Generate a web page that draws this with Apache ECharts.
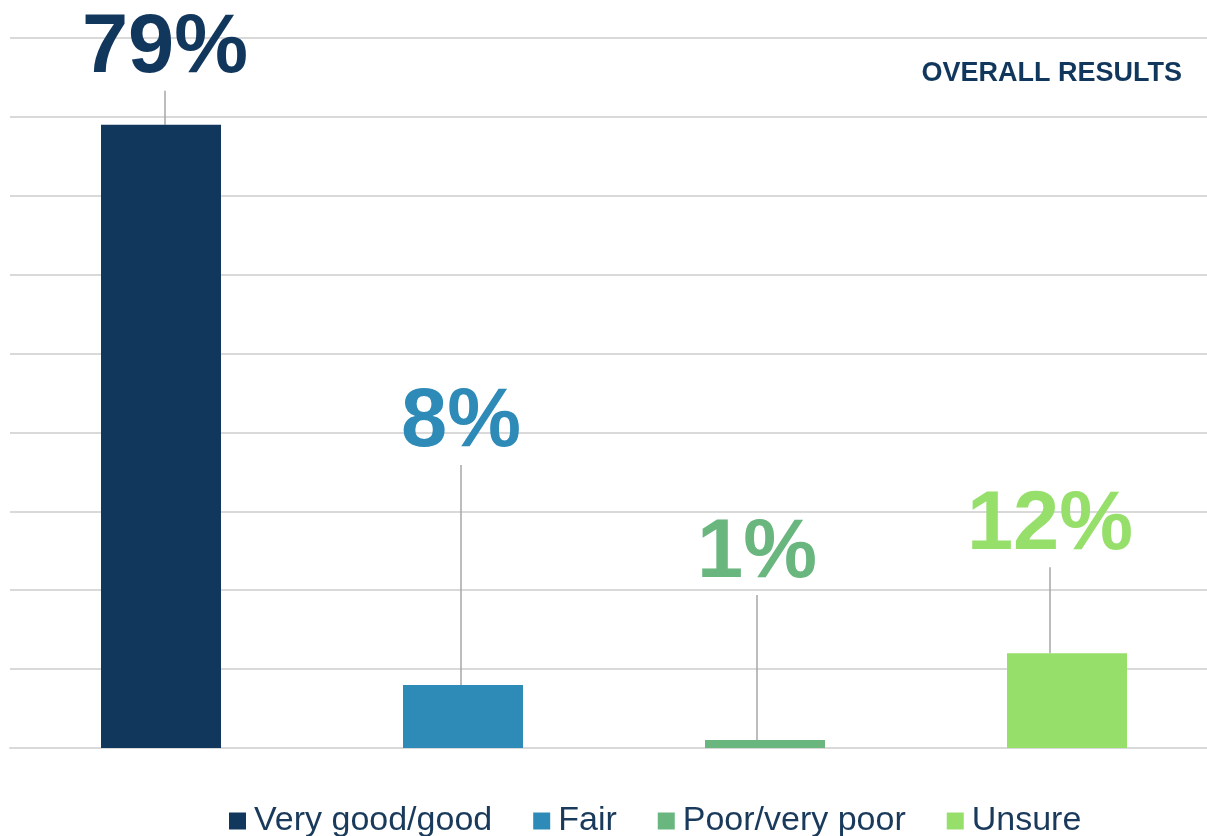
<!DOCTYPE html>
<html>
<head>
<meta charset="utf-8">
<script src="https://cdn.jsdelivr.net/npm/echarts@6/dist/echarts.min.js"></script>
<style>
  html, body { margin: 0; padding: 0; background: #fff; }
  #main { width: 1207px; height: 836px; }
</style>
</head>
<body>
<div id="main"></div>
<script>
var categories = ['Very good/good', 'Fair', 'Poor/very poor', 'Unsure'];
var values = [79, 8, 1, 12];
var colors = ['#12375c', '#2e8bb8', '#69b67f', '#97df6b'];
// manual label offsets (like the dragged labels of the original)
var labelShift = [[4, -29], [-2, -215], [-8, -140], [-17, -81]];

var chart = echarts.init(document.getElementById('main'), null);
var option;

var series = categories.map(function (name, i) {
    return {
        name: name,
        type: 'bar',
        stack: 'all',
        barWidth: 120,
        data: categories.map(function (c, j) { return j === i ? values[i] : '-'; }),
        itemStyle: { color: colors[i] },
        label: {
            show: true,
            position: 'top',
            formatter: '{c}%',
            fontFamily: 'Liberation Sans',
            fontSize: 83,
            fontWeight: 'bold',
            color: colors[i]
        },
        labelLayout: { dx: labelShift[i][0], dy: labelShift[i][1] },
        labelLine: {
            show: true,
            lineStyle: { color: '#a6a6a6', width: 1.5 }
        }
    };
});

option = {
    animation: false,
    title: {
        text: 'OVERALL RESULTS',
        right: 20,
        top: 55,
        textStyle: {
            fontFamily: 'Liberation Sans',
            fontSize: 27,
            fontWeight: 'bold',
            color: '#12375c'
        }
    },
    legend: {
        left: 224,
        top: 799,
        icon: 'rect',
        itemWidth: 17,
        itemHeight: 17,
        itemGap: 41,
        textStyle: {
            fontFamily: 'Liberation Sans',
            fontSize: 34,
            color: '#1a3a5c',
            padding: [0, 0, 0, 3]
        }
    },
    grid: {
        top: 38,
        left: 10,
        width: 1208,
        bottom: 88,
        outerBoundsMode: 'none',
        containLabel: false
    },
    xAxis: {
        type: 'category',
        data: categories,
        axisLine: { lineStyle: { color: '#d9d9d9', width: 2 } },
        axisTick: { show: false },
        axisLabel: { show: false }
    },
    yAxis: {
        type: 'value',
        min: 0,
        max: 90,
        interval: 10,
        axisLabel: { show: false },
        splitLine: { lineStyle: { color: '#d9d9d9', width: 2 } }
    },
    series: series
};

if (option && typeof option === 'object') {
    chart.setOption(option);
}

window.addEventListener('resize', function () {
    chart.resize();
})
</script>
</body>
</html>
